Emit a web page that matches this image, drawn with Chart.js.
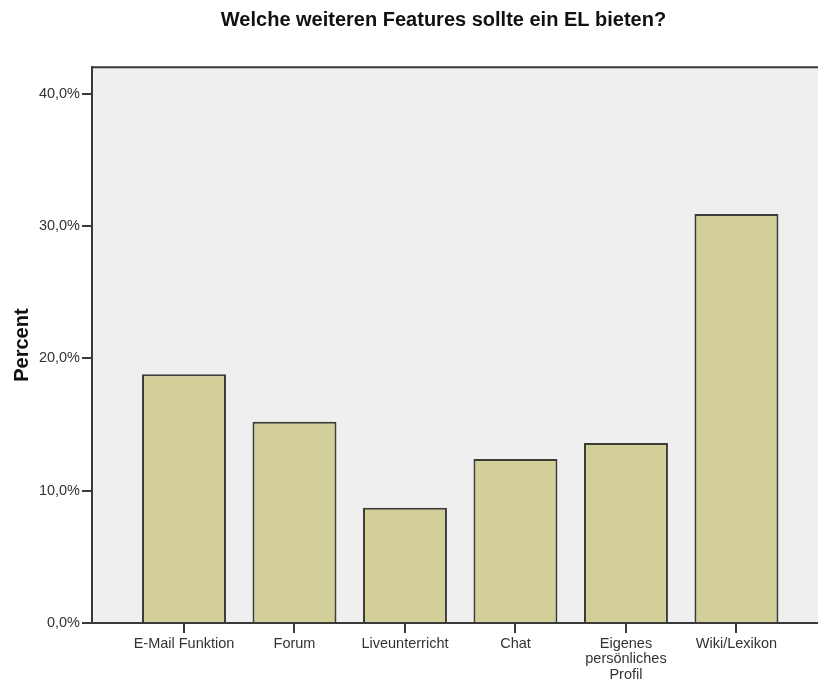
<!DOCTYPE html>
<html>
<head>
<meta charset="utf-8">
<script src="https://cdn.jsdelivr.net/npm/chart.js@4/dist/chart.umd.min.js"></script>
<style>
  body { margin: 0; background: #fff; overflow: hidden; }
  #wrap { width: 818px; height: 679px; position: relative; }
</style>
</head>
<body>
<div id="wrap"><canvas id="featureChart"></canvas></div>
<script>
// Chart data
const categories = [
  "E-Mail Funktion",
  "Forum",
  "Liveunterricht",
  "Chat",
  ["Eigenes", "persönliches", "Profil"],
  "Wiki/Lexikon",
];
const percentValues = [18.8, 15.2, 8.7, 12.4, 13.6, 30.9];
const yTickValues = [0, 10, 20, 30, 40];

const axisColor = "#3a3a3a";
const labelFont = { family: "Arial, 'Liberation Sans', sans-serif", size: 14.5 };

// Fill the plot area and draw its top edge, and shift the title like the original
const plotFrame = {
  id: "plotFrame",
  afterLayout(chart) {
    chart.titleBlock.left = 69;
    chart.titleBlock.right = chart.width;
  },
  beforeDraw(chart) {
    const { ctx, chartArea } = chart;
    ctx.save();
    ctx.fillStyle = "#efefef";
    ctx.fillRect(chartArea.left, chartArea.top, chartArea.right - chartArea.left, chartArea.bottom - chartArea.top);
    ctx.restore();
  },
  afterDraw(chart) {
    const { ctx, chartArea } = chart;
    ctx.save();
    ctx.strokeStyle = axisColor;
    ctx.lineWidth = 2;
    ctx.beginPath();
    ctx.moveTo(chartArea.left - 1, chartArea.top);
    ctx.lineTo(chartArea.right, chartArea.top);
    ctx.stroke();
    ctx.restore();
  },
};

const ctx = document.getElementById("featureChart").getContext("2d");
const featureChart = new Chart(ctx, {
  type: "bar",
  data: {
    datasets: [
      {
        label: "Percent",
        data: percentValues.map((v, i) => ({ x: i, y: v })),
        backgroundColor: "#d3cf98",
        borderColor: "#3c3c38",
        borderWidth: 2,
        barPercentage: 0.76,
        categoryPercentage: 1,
      },
    ],
  },
  options: {
    responsive: true,
    maintainAspectRatio: false,
    animation: false,
    layout: { padding: 0 },
    plugins: {
      legend: { display: false },
      tooltip: { enabled: false },
      title: {
        display: true,
        text: "Welche weiteren Features sollte ein EL bieten?",
        color: "#111",
        font: { family: "Arial, 'Liberation Sans', sans-serif", size: 20, weight: "bold" },
        padding: { top: 8.6, bottom: 34.6 },
      },
    },
    scales: {
      x: {
        type: "linear",
        min: -0.8326,
        max: 5.738,
        offset: false,
        afterFit: (scale) => { scale.height = 56; },
        afterBuildTicks: (scale) => {
          scale.ticks = categories.map((c, i) => ({ value: i }));
        },
        grid: {
          offset: false,
          drawOnChartArea: false,
          drawTicks: true,
          tickLength: 10,
          color: axisColor,
          lineWidth: 2,
        },
        border: { color: axisColor, width: 2 },
        ticks: {
          autoSkip: false,
          maxRotation: 0,
          padding: 3,
          color: "#333",
          font: { ...labelFont, lineHeight: 1.07 },
          callback: (value) => categories[value],
        },
      },
      y: {
        min: 0,
        max: 42,
        afterFit: (scale) => { scale.width = 92; },
        afterBuildTicks: (scale) => {
          scale.ticks = yTickValues.map((v) => ({ value: v }));
        },
        grid: {
          drawOnChartArea: false,
          drawTicks: true,
          tickLength: 10,
          color: axisColor,
          lineWidth: 2,
        },
        border: { color: axisColor, width: 2 },
        ticks: {
          padding: 2,
          color: "#333",
          font: labelFont,
          callback: (value) => value.toFixed(1).replace(".", ",") + "%",
        },
        title: {
          display: true,
          text: "Percent",
          color: "#111",
          font: { family: "Arial, 'Liberation Sans', sans-serif", size: 20, weight: "bold" },
          padding: { top: 10.5, bottom: 0 },
        },
      },
    },
  },
  plugins: [plotFrame],
});
</script>
</body>
</html>
